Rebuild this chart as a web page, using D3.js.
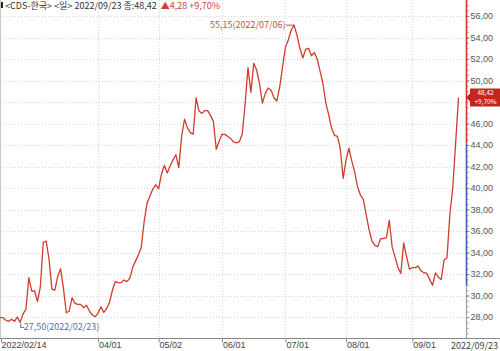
<!DOCTYPE html>
<html>
<head>
<meta charset="utf-8">
<script src="https://cdn.jsdelivr.net/npm/d3@7"></script>
<style>
  body { margin: 0; background: #fff; }
  svg { display: block; font-family: "Liberation Sans Narrow", "Noto Sans CJK KR", sans-serif; }
</style>
</head>
<body>
<div id="chart-area"></div>
<script>
// daily close, 2022/02/14 .. 2022/09/23 (weekdays)
var values = [
  27.95, 27.95, 27.7, 27.6, 27.8, 27.6, 28.0, 27.5, 28.3, 28.74,
  31.66, 30.42, 30.42, 29.43, 30.82, 34.95, 35.07, 33.4, 30.6, 30.51,
  31.75, 32.5, 30.67, 28.4, 28.56, 29.8, 29.27, 29.18, 29.18, 28.87,
  29.1, 28.56, 28.19, 28.03, 28.34, 28.96, 28.43, 28.8, 29.4, 30.51,
  31.3, 31.2, 31.2, 31.45, 31.3, 31.6, 32.6, 33.2, 33.8, 34.5,
  36.9, 38.6, 39.26, 39.9, 40.3, 39.95, 41.3, 42.1, 41.4, 42.05,
  42.6, 43.1, 41.9, 44.84, 46.4, 45.6, 45.15, 45.0, 48.4, 47.16,
  46.95, 47.2, 47.2, 46.76, 46.2, 43.6, 44.37, 44.99, 44.99, 44.8,
  44.6, 44.3, 44.2, 44.3, 45.0, 47.8, 51.2, 48.9, 51.6, 50.98,
  49.7, 47.9, 48.8, 49.3, 49.1, 48.4, 48.1, 49.4, 51.3, 53.1,
  53.8, 54.7, 55.15, 54.2, 53.0, 52.1, 52.9, 53.0, 52.3, 52.6,
  52.0, 50.88, 49.7, 47.9, 46.8, 45.55, 44.9, 44.8, 43.7, 40.9,
  42.6, 43.7, 42.5, 41.5, 40.1, 39.35, 38.95, 37.5, 36.1, 35.07,
  34.67, 34.55, 35.3, 35.3, 35.38, 37.0, 34.5, 33.6, 32.6, 32.06,
  34.9, 33.6, 32.45, 32.6, 32.6, 32.75, 32.3, 32.12, 32.05, 31.5,
  30.95, 32.1, 31.7, 31.5, 33.3, 33.5, 37.5, 40.0, 44.14, 48.42
];

var tickIdx = [0, 34, 55, 77, 99, 120, 143];
var tickLabels = ['2022/02/14', '04/01', '05/02', '06/01', '07/01', '08/01', '09/01'];
var lastLabel = '2022/09/23';
var yTicks = d3.range(28, 57, 2);

var titleText = '<CDS-한국> <일> 2022/09/23 종:48,42';
var changeText = '▲4,28 +9,70%';
var badgeLines = ['48,42', '+9,70%'];
var maxIdx = 102, maxText = '55,15(2022/07/06)';
var minIdx = 7, minText = '27,50(2022/02/23)';
var prevClose = 44.14, rangeLow = 30.95;

var W = 500, H = 351;
var plotRight = 466.5, plotBottom = 338;

var svg = d3.select('#chart-area')
  .append('svg')
  .attr('width', W)
  .attr('height', H);

var x = d3.scaleLinear()
  .domain([0, values.length - 1])
  .range([0, 458.5]);

var y = d3.scaleLinear()
  .domain([26.05, 57.49])
  .range([plotBottom, 0]);

var by = y(values[values.length - 1]); // last value badge centre

function comma(d) {
  return d3.format('.2f')(d).replace('.', ',');
}

// grid
svg.append('g')
  .selectAll('line')
  .data(yTicks)
  .enter().append('line')
    .attr('x1', 0)
    .attr('x2', plotRight)
    .attr('y1', function(d) { return Math.round(y(d)) + 0.5; })
    .attr('y2', function(d) { return Math.round(y(d)) + 0.5; })
    .attr('stroke', '#d6d6d6')
    .attr('stroke-dasharray', '1,2');

svg.append('g')
  .selectAll('line')
  .data(tickIdx.slice(1))
  .enter().append('line')
    .attr('x1', function(d) { return Math.round(x(d)) + 0.5; })
    .attr('x2', function(d) { return Math.round(x(d)) + 0.5; })
    .attr('y1', 0)
    .attr('y2', plotBottom)
    .attr('stroke', '#d6d6d6')
    .attr('stroke-dasharray', '1,2');

// left border
svg.append('line')
  .attr('x1', 0.5).attr('x2', 0.5)
  .attr('y1', 0).attr('y2', plotBottom)
  .attr('stroke', '#c8c8c8');

// line
var line = d3.line()
  .x(function(d, i) { return x(i); })
  .y(function(d) { return y(d); });

svg.append('path')
  .datum(values)
  .attr('d', line)
  .attr('fill', 'none')
  .attr('stroke', '#cf3d2d')
  .attr('stroke-width', 1.3)
  .attr('stroke-linejoin', 'round');

// Y Axis (right)
var yAxisG = svg.append('g')
  .attr('transform', 'translate(' + plotRight + ',0)');

yAxisG.append('g')
  .call(d3.axisRight(y).tickValues(d3.range(26.5, 57.5, 0.5)).tickSize(2).tickFormat(''))
  .call(function(g) { g.select('.domain').remove(); })
  .selectAll('line').attr('stroke', '#999');

// labels hidden under the badge are left out
yAxisG.append('g')
  .call(d3.axisRight(y)
    .tickValues(yTicks.filter(function(d) { return Math.abs(y(d) - by) > 9; }))
    .tickSize(3).tickPadding(1).tickFormat(comma))
  .call(function(g) {
    g.select('.domain').remove();
    g.selectAll('line').attr('stroke', '#888');
    g.selectAll('text')
      .attr('fill', '#555')
      .attr('font-size', '9px')
      .attr('font-family', '"Liberation Sans Narrow", sans-serif');
  });

// coloured axis spine
yAxisG.append('line')
  .attr('x1', 0).attr('x2', 0)
  .attr('y1', y(rangeLow)).attr('y2', plotBottom)
  .attr('stroke', '#a0a0a0').attr('stroke-width', 1.2);
yAxisG.append('line')
  .attr('x1', 0).attr('x2', 0)
  .attr('y1', y(prevClose)).attr('y2', y(rangeLow))
  .attr('stroke', '#3a62b0').attr('stroke-width', 1.6);
yAxisG.append('line')
  .attr('x1', 0).attr('x2', 0)
  .attr('y1', 0).attr('y2', y(prevClose))
  .attr('stroke', '#d8352a').attr('stroke-width', 1.6);

// X Axis (bottom)
svg.append('line')
  .attr('x1', 0).attr('x2', W)
  .attr('y1', plotBottom + 0.5).attr('y2', plotBottom + 0.5)
  .attr('stroke', '#888');

var xAxisG = svg.append('g')
  .attr('transform', 'translate(0,' + (plotBottom + 0.5) + ')')
  .call(d3.axisBottom(x)
    .tickValues(tickIdx)
    .tickSize(4)
    .tickFormat(function(d, i) { return tickLabels[i]; }));

xAxisG.select('.domain').remove();
xAxisG.selectAll('.tick line').attr('stroke', '#888')
  .attr('transform', function(d) { return d === 0 ? 'translate(1,0)' : null; });
xAxisG.selectAll('.tick text')
  .attr('text-anchor', 'start')
  .attr('x', function(d) { return d === 0 ? 1 : 0.5; })
  .attr('y', 3)
  .attr('fill', '#444')
  .attr('font-size', '9px')
  .attr('font-family', '"Liberation Sans Narrow", sans-serif');

svg.append('text')
  .attr('x', 498)
  .attr('y', 349)
  .attr('text-anchor', 'end')
  .attr('fill', '#444')
  .attr('font-size', '9px')
  .text(lastLabel);

// max note
var mx = x(maxIdx), my = y(values[maxIdx]);
svg.append('line')
  .attr('x1', mx - 8).attr('x2', mx)
  .attr('y1', my).attr('y2', my)
  .attr('stroke', '#b5574a');
svg.append('text')
  .attr('x', mx - 8.5)
  .attr('y', my + 3)
  .attr('text-anchor', 'end')
  .attr('fill', '#b5574a')
  .attr('font-size', '9px')
  .text(maxText);

// min note
var nx = x(minIdx), ny = y(values[minIdx]);
svg.append('path')
  .attr('d', 'M' + (nx + 0.5) + ',' + (ny + 1) + 'V' + (ny + 5) + 'H' + (nx + 4))
  .attr('fill', 'none')
  .attr('stroke', '#5a6ea6');
svg.append('text')
  .attr('x', nx + 3.5)
  .attr('y', ny + 8)
  .attr('fill', '#5a6ea6')
  .attr('font-size', '9px')
  .text(minText);

// last value badge
svg.append('path')
  .attr('d', 'M466,' + by + 'L470,' + (by - 4) + 'V' + (by - 9) + 'H500V' + (by + 9) + 'H470V' + (by + 4) + 'Z')
  .attr('fill', '#c3261d');
svg.selectAll('.badge')
  .data(badgeLines)
  .enter().append('text')
    .attr('class', 'badge')
    .attr('x', 485.5)
    .attr('y', function(d, i) { return by - 2.3 + i * 9; })
    .attr('text-anchor', 'middle')
    .attr('fill', '#fff')
    .attr('font-size', '6.5px')
    .text(function(d) { return d; });

// title
svg.append('rect')
  .attr('x', 1).attr('y', 2)
  .attr('width', 2).attr('height', 6)
  .attr('fill', '#222');
var title = svg.append('text')
  .attr('x', 5)
  .attr('y', 8.5)
  .attr('font-size', '9px')
  .attr('fill', '#333');
title.append('tspan').text(titleText);
title.append('tspan').attr('fill', '#d63c3c').attr('dx', 4).text(changeText);
</script>
</body>
</html>
